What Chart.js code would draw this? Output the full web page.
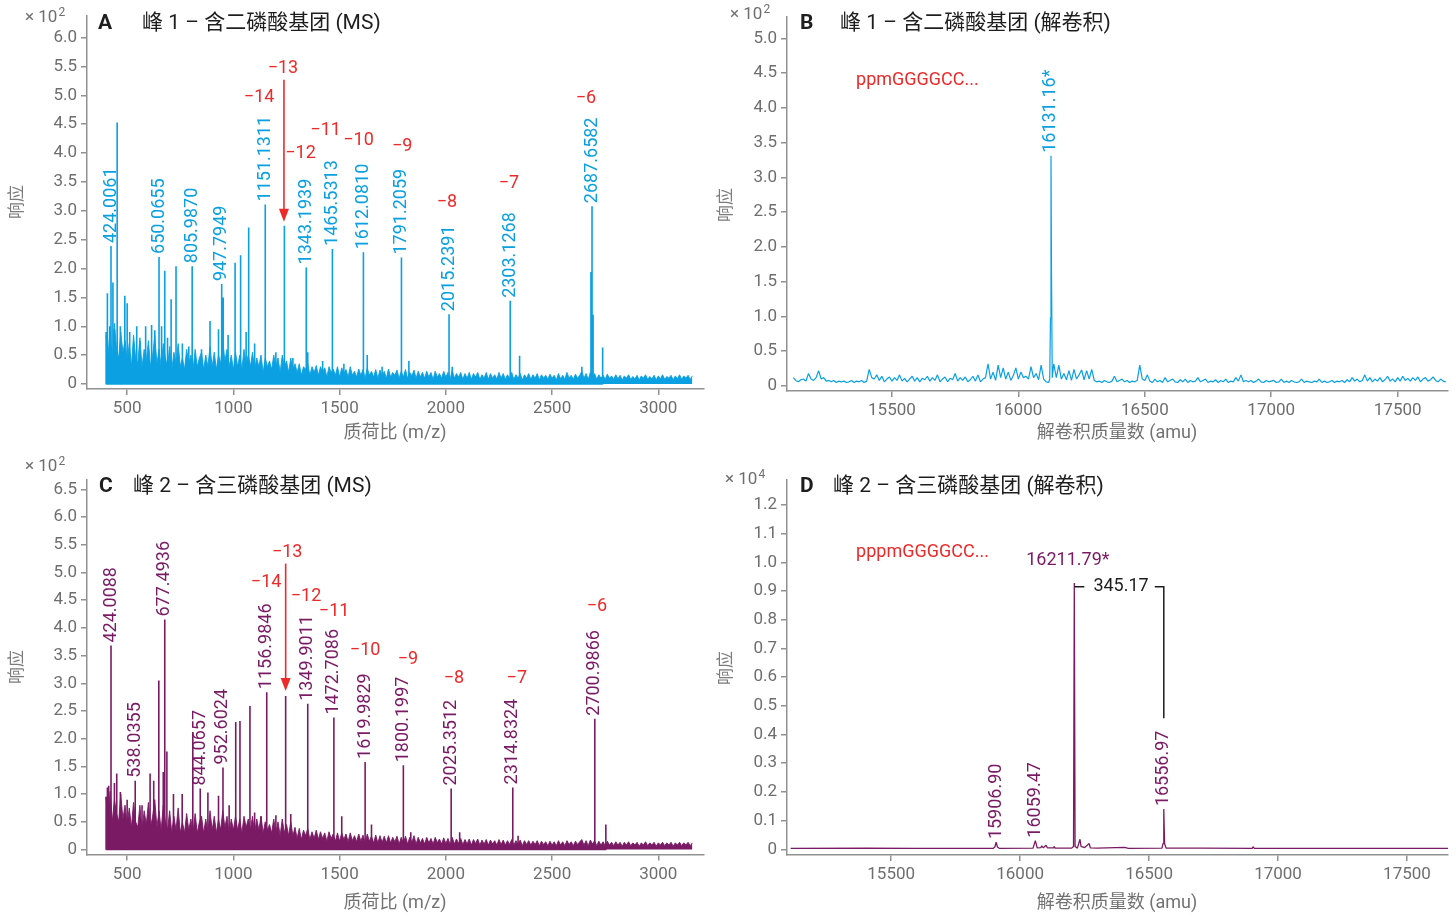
<!DOCTYPE html>
<html>
<head>
<meta charset="utf-8">
<script src="https://cdn.jsdelivr.net/npm/chart.js@4.4.1/dist/chart.umd.min.js"></script>
<style>
  body { margin: 0; width: 1456px; height: 920px; background: #fff; position: relative; overflow: hidden; }
  canvas { position: absolute; }
</style>
</head>
<body>
<canvas id="cA" width="716" height="455" style="left:0;top:0"></canvas>
<canvas id="cB" width="740" height="455" style="left:716px;top:0"></canvas>
<canvas id="cC" width="716" height="465" style="left:0;top:455px"></canvas>
<canvas id="cD" width="740" height="465" style="left:716px;top:455px"></canvas>
<script>
// ---- data (intensities in units of the axis multiplier) ----

// tick values
const msTicksX = [500, 1000, 1500, 2000, 2500, 3000];
const deconTicksX = [15500, 16000, 16500, 17000, 17500];
const ticksYA = [0, 0.5, 1, 1.5, 2, 2.5, 3, 3.5, 4, 4.5, 5, 5.5, 6];
const ticksYB = [0, 0.5, 1, 1.5, 2, 2.5, 3, 3.5, 4, 4.5, 5];
const ticksYC = [0, 0.5, 1, 1.5, 2, 2.5, 3, 3.5, 4, 4.5, 5, 5.5, 6, 6.5];
const ticksYD = [0, 0.1, 0.2, 0.3, 0.4, 0.5, 0.6, 0.7, 0.8, 0.9, 1, 1.1, 1.2];

// MS baseline noise, read every 10 m/z from 400 (one row = 100 m/z)
const noiseStartMs = 400, noiseStepMs = 10;
const noiseA = [
  0.85, 0.5, 0.95, 0.4, 1.05, 0.6, 0.45, 0.9, 0.55, 0.75,
  0.4, 0.7, 0.3, 0.85, 0.45, 0.35, 0.8, 0.3, 0.6, 0.4,
  0.75, 0.3, 0.5, 0.85, 0.35, 0.6, 0.3, 0.7, 0.45, 0.3,
  0.65, 0.25, 0.55, 0.35, 0.7, 0.3, 0.45, 0.25, 0.6, 0.35,
  0.5, 0.25, 0.6, 0.3, 0.45, 0.55, 0.25, 0.5, 0.3, 0.65,
  0.3, 0.55, 0.25, 0.5, 0.35, 0.75, 0.4, 0.6, 0.3, 0.5,
  0.25, 0.55, 0.3, 0.5, 0.25, 0.6, 0.35, 0.5, 0.3, 0.55,
  0.25, 0.45, 0.3, 0.5, 0.2, 0.45, 0.3, 0.4, 0.25, 0.5,
  0.3, 0.45, 0.2, 0.5, 0.3, 0.4, 0.2, 0.45, 0.25, 0.35,
  0.2, 0.35, 0.15, 0.3, 0.25, 0.35, 0.15, 0.3, 0.2, 0.32,
  0.15, 0.3, 0.2, 0.28, 0.12, 0.3, 0.2, 0.26, 0.15, 0.3,
  0.12, 0.28, 0.18, 0.25, 0.12, 0.3, 0.15, 0.22, 0.12, 0.26,
  0.15, 0.25, 0.1, 0.28, 0.15, 0.22, 0.12, 0.25, 0.1, 0.24,
  0.14, 0.22, 0.1, 0.26, 0.12, 0.2, 0.15, 0.24, 0.1, 0.22,
  0.12, 0.25, 0.1, 0.2, 0.14, 0.24, 0.1, 0.22, 0.12, 0.2,
  0.1, 0.22, 0.12, 0.2, 0.08, 0.22, 0.12, 0.18, 0.1, 0.22,
  0.12, 0.2, 0.08, 0.24, 0.1, 0.18, 0.12, 0.2, 0.08, 0.18,
  0.1, 0.2, 0.08, 0.18, 0.12, 0.2, 0.08, 0.16, 0.1, 0.2,
  0.08, 0.18, 0.1, 0.16, 0.08, 0.2, 0.1, 0.18, 0.08, 0.16,
  0.1, 0.2, 0.08, 0.16, 0.1, 0.18, 0.07, 0.16, 0.1, 0.18,
  0.08, 0.16, 0.1, 0.18, 0.07, 0.16, 0.1, 0.15, 0.08, 0.17,
  0.1, 0.15, 0.07, 0.18, 0.09, 0.15, 0.08, 0.2, 0.1, 0.15,
  0.08, 0.17, 0.1, 0.15, 0.22, 0.1, 0.18, 0.08, 0.2, 0.12,
  0.18, 0.08, 0.16, 0.1, 0.15, 0.08, 0.17, 0.1, 0.14, 0.08,
  0.16, 0.09, 0.15, 0.07, 0.14, 0.1, 0.16, 0.08, 0.13, 0.09,
  0.15, 0.07, 0.14, 0.1, 0.16, 0.08, 0.13, 0.09, 0.15, 0.07,
  0.14, 0.09, 0.16, 0.08, 0.13, 0.1, 0.15, 0.07, 0.14, 0.09,
  0.16, 0.08, 0.14, 0.1, 0.15, 0.08, 0.14
];
// panel A: resolved peaks [m/z, intensity]
const peaksA = [
  [401, 0.9], [407, 1.57], [418, 1.0], [424, 2.39], [433, 1.76], [440, 0.95], [453, 4.53],
  [468, 1.0], [489, 1.53], [500, 1.4], [512, 0.9], [545, 1.0], [560, 0.75], [587, 1.0],
  [615, 1.02], [630, 0.93], [650, 2.2], [662, 1.0], [677, 1.96], [690, 0.8], [707, 1.47],
  [730, 2.04], [760, 0.7], [790, 0.65], [806, 2.04], [850, 0.6], [890, 1.09], [930, 0.95],
  [945, 1.73], [952, 1.5], [975, 0.85], [1008, 2.1], [1034, 2.23], [1060, 0.9], [1072, 2.71],
  [1100, 0.7], [1150, 3.11], [1200, 0.55], [1240, 2.74], [1280, 0.45], [1343, 2.02],
  [1350, 0.55], [1420, 0.4], [1466, 2.34], [1520, 0.35], [1612, 2.28], [1630, 0.5],
  [1700, 0.3], [1791, 2.19], [1826, 0.4], [2015, 1.21], [2030, 0.3], [2303, 1.44],
  [2347, 0.49], [2640, 0.3], [2683, 1.94], [2688, 3.08], [2693, 1.2], [2738, 0.63]
];
const labelsA = [
  [424, '424.0061'], [650, '650.0655'], [806, '805.9870'], [945, '947.7949'],
  [1150, '1151.1311'], [1343, '1343.1939'], [1466, '1465.5313'], [1612, '1612.0810'],
  [1791, '1791.2059'], [2015, '2015.2391'], [2303, '2303.1268'], [2688, '2687.6582']
];
const chargesA = [
  ['−14', 1121, 4.97], ['−13', 1233, 5.47], ['−12', 1316, 4.0], ['−11', 1434, 4.4],
  ['−10', 1589, 4.21], ['−9', 1794, 4.11], ['−8', 2005, 3.15], ['−7', 2297, 3.47], ['−6', 2659, 4.94]
];
const arrowA = [1238, 5.27, 2.81];

// panel C
const noiseC = [
  0.95, 0.6, 1.05, 0.5, 0.9, 0.65, 0.5, 1.0, 0.55, 0.8,
  0.45, 0.75, 0.4, 0.85, 0.5, 0.4, 0.8, 0.35, 0.7, 0.45,
  0.85, 0.4, 0.6, 0.9, 0.4, 0.7, 0.35, 0.8, 0.5, 0.35,
  0.7, 0.3, 0.6, 0.35, 0.75, 0.3, 0.5, 0.3, 0.65, 0.35,
  0.55, 0.3, 0.65, 0.3, 0.5, 0.6, 0.3, 0.55, 0.3, 0.7,
  0.35, 0.6, 0.3, 0.55, 0.35, 0.7, 0.4, 0.6, 0.3, 0.55,
  0.35, 0.6, 0.35, 0.55, 0.3, 0.6, 0.4, 0.55, 0.35, 0.6,
  0.3, 0.55, 0.35, 0.6, 0.3, 0.5, 0.35, 0.45, 0.3, 0.55,
  0.3, 0.5, 0.25, 0.55, 0.3, 0.45, 0.25, 0.5, 0.25, 0.4,
  0.2, 0.38, 0.18, 0.35, 0.25, 0.38, 0.18, 0.32, 0.2, 0.35,
  0.18, 0.32, 0.2, 0.3, 0.15, 0.32, 0.2, 0.28, 0.15, 0.3,
  0.15, 0.3, 0.18, 0.28, 0.14, 0.3, 0.16, 0.25, 0.14, 0.28,
  0.15, 0.26, 0.12, 0.28, 0.15, 0.24, 0.12, 0.26, 0.12, 0.25,
  0.13, 0.24, 0.12, 0.25, 0.12, 0.22, 0.14, 0.24, 0.1, 0.22,
  0.12, 0.24, 0.1, 0.22, 0.13, 0.25, 0.1, 0.22, 0.12, 0.2,
  0.1, 0.22, 0.12, 0.2, 0.1, 0.22, 0.12, 0.19, 0.1, 0.21,
  0.11, 0.2, 0.09, 0.22, 0.1, 0.19, 0.11, 0.2, 0.09, 0.18,
  0.1, 0.19, 0.08, 0.18, 0.11, 0.19, 0.08, 0.17, 0.1, 0.18,
  0.08, 0.17, 0.1, 0.16, 0.08, 0.18, 0.09, 0.17, 0.08, 0.16,
  0.09, 0.18, 0.08, 0.16, 0.09, 0.17, 0.07, 0.16, 0.09, 0.16,
  0.08, 0.15, 0.09, 0.16, 0.07, 0.15, 0.09, 0.14, 0.07, 0.15,
  0.08, 0.14, 0.07, 0.16, 0.08, 0.14, 0.07, 0.16, 0.09, 0.14,
  0.07, 0.15, 0.09, 0.14, 0.18, 0.08, 0.16, 0.07, 0.17, 0.1,
  0.16, 0.07, 0.15, 0.08, 0.14, 0.07, 0.15, 0.08, 0.13, 0.07,
  0.14, 0.08, 0.13, 0.06, 0.13, 0.08, 0.14, 0.07, 0.12, 0.08,
  0.13, 0.06, 0.12, 0.08, 0.14, 0.07, 0.12, 0.08, 0.13, 0.06,
  0.12, 0.08, 0.13, 0.07, 0.12, 0.08, 0.13, 0.06, 0.12, 0.08,
  0.13, 0.07, 0.12, 0.08, 0.13, 0.07, 0.12
];
const peaksC = [
  [401, 0.95], [407, 1.12], [413, 1.15], [424, 3.68], [440, 1.2], [451, 1.37], [468, 1.04],
  [500, 0.9], [538, 1.24], [570, 0.8], [608, 1.37], [625, 1.24], [649, 3.05], [670, 1.4],
  [677, 4.15], [687, 1.77], [718, 1.0], [759, 1.0], [809, 2.12], [844, 1.1], [880, 1.03],
  [930, 0.97], [951, 1.48], [980, 0.8], [1011, 2.3], [1031, 2.32], [1078, 2.59], [1100, 0.67],
  [1130, 0.6], [1157, 2.84], [1200, 0.62], [1246, 2.77], [1270, 0.64], [1350, 2.63],
  [1473, 2.38], [1510, 0.6], [1620, 1.58], [1650, 0.45], [1800, 1.52], [1835, 0.31],
  [2025, 1.1], [2065, 0.31], [2315, 1.12], [2340, 0.25], [2701, 2.36], [2753, 0.45]
];
const labelsC = [
  [424, '424.0088'], [538, '538.0355'], [677, '677.4936'], [844, '844.0657'], [951, '952.6024'],
  [1157, '1156.9846'], [1350, '1349.9011'], [1473, '1472.7086'], [1620, '1619.9829'],
  [1800, '1800.1997'], [2025, '2025.3512'], [2315, '2314.8324'], [2701, '2700.9866']
];
const chargesC = [
  ['−14', 1154, 4.81], ['−13', 1253, 5.36], ['−12', 1342, 4.57], ['−11', 1474, 4.29],
  ['−10', 1620, 3.59], ['−9', 1822, 3.43], ['−8', 2038, 3.09], ['−7', 2334, 3.09], ['−6', 2711, 4.39]
];
const arrowC = [1246, 5.16, 2.86];

// panel B: deconvoluted baseline every 10 amu from 15110, plus main peak
const noiseStartB = 15110, noiseStepB = 10;
const noiseB = [
  0.12, 0.08, 0.06, 0.09, 0.1, 0.07, 0.18, 0.1, 0.08, 0.12,
  0.22, 0.1, 0.12, 0.07, 0.08, 0.06, 0.08, 0.05, 0.07, 0.06,
  0.07, 0.05, 0.06, 0.08, 0.05, 0.07, 0.06, 0.08, 0.05, 0.07,
  0.24, 0.12, 0.1, 0.16, 0.08, 0.14, 0.06, 0.1, 0.13, 0.07,
  0.12, 0.08, 0.16, 0.07, 0.11, 0.06, 0.1, 0.14, 0.07, 0.12,
  0.06, 0.11, 0.09, 0.14, 0.07, 0.12, 0.08, 0.16, 0.06, 0.1,
  0.13, 0.06, 0.11, 0.09, 0.18, 0.07, 0.12, 0.08, 0.13, 0.06,
  0.09, 0.14, 0.07, 0.16, 0.06, 0.1, 0.12, 0.32, 0.1, 0.2,
  0.08, 0.3, 0.12, 0.26, 0.1, 0.2, 0.08, 0.15, 0.26, 0.1,
  0.2, 0.12, 0.14, 0.1, 0.28, 0.12, 0.18, 0.09, 0.3, 0.1,
  0.06, 0.05, 0.08, 0.32, 0.12, 0.3, 0.1, 0.18, 0.09, 0.22,
  0.08, 0.24, 0.1, 0.16, 0.23, 0.09, 0.22, 0.1, 0.24, 0.08,
  0.06, 0.07, 0.05, 0.08, 0.06, 0.05, 0.07, 0.14, 0.06, 0.08,
  0.1, 0.06, 0.08, 0.05, 0.07, 0.06, 0.08, 0.3, 0.1, 0.08,
  0.16, 0.07, 0.05, 0.1, 0.06, 0.08, 0.05, 0.12, 0.06, 0.08,
  0.1, 0.06, 0.05, 0.09, 0.06, 0.1, 0.05, 0.08, 0.06, 0.07,
  0.12, 0.06, 0.08, 0.1, 0.05, 0.07, 0.06, 0.09, 0.05, 0.08,
  0.06, 0.1, 0.05, 0.07, 0.06, 0.12, 0.07, 0.16, 0.06, 0.08,
  0.06, 0.08, 0.05, 0.07, 0.1, 0.06, 0.05, 0.08, 0.06, 0.07,
  0.08, 0.05, 0.06, 0.1, 0.05, 0.07, 0.05, 0.08, 0.06, 0.05,
  0.06, 0.1, 0.05, 0.07, 0.06, 0.05, 0.07, 0.06, 0.1, 0.05,
  0.07, 0.05, 0.06, 0.08, 0.05, 0.07, 0.06, 0.08, 0.05, 0.09,
  0.06, 0.12, 0.07, 0.1, 0.06, 0.08, 0.16, 0.07, 0.12, 0.06,
  0.1, 0.07, 0.12, 0.06, 0.09, 0.14, 0.07, 0.1, 0.06, 0.12,
  0.07, 0.14, 0.08, 0.11, 0.07, 0.12, 0.08, 0.13, 0.06, 0.1,
  0.12, 0.07, 0.09, 0.13, 0.08, 0.06, 0.1, 0.07, 0.06
];
const peakB = [[16124, 0.1], [16127, 0.98], [16129, 3.31], [16131, 1.63], [16134, 0.12]];
const labelsB = [[16129, '16131.16*']];

// panel D: deconvoluted profile [amu, intensity]
const profileD = [
  [15110, 0.003], [15400, 0.004], [15600, 0.003], [15895, 0.003], [15902, 0.008], [15907, 0.025],
  [15912, 0.008], [15920, 0.003], [16050, 0.004], [16059, 0.03], [16066, 0.005], [16080, 0.006],
  [16084, 0.012], [16090, 0.005], [16100, 0.014], [16106, 0.005], [16128, 0.005], [16131, 0.01],
  [16136, 0.004], [16200, 0.004], [16207, 0.01], [16210, 0.928], [16213, 0.01], [16222, 0.004],
  [16232, 0.035], [16236, 0.01], [16250, 0.006], [16268, 0.02], [16272, 0.005], [16300, 0.004],
  [16405, 0.007], [16420, 0.003], [16550, 0.004], [16554, 0.02], [16557, 0.14], [16560, 0.02],
  [16566, 0.004], [16700, 0.004], [16900, 0.003], [16903, 0.009], [16908, 0.003], [17200, 0.003],
  [17660, 0.003]
];
const labelsD = [[15907, '15906.90'], [16059, '16059.47'], [16557, '16556.97']];
const mainD = [16185, 1.008, '16211.79*'];
const bracketD = [16210, 16557, 0.915, 0.457, '345.17'];

// ---- drawing ----
const FONT = 'Roboto, "Noto Sans CJK SC", sans-serif';
const AXIS = '#919191', TICK = '#6e6e6e', INK = '#1e1e1e', RED = '#ec2a2a';
const BLUE = '#0aa0e2', PURPLE = '#7a1a64';

function gridPoints(start, step, vals) {
  return vals.map((v, i) => ({ x: start + i * step, y: v }));
}
function sticks(peaks) {
  const out = [];
  peaks.forEach(([m, h]) => { out.push({ x: m, y: 0 }, { x: m, y: h }, { x: m, y: 0 }); });
  return out;
}
function pairs(list) {
  return list.map(([m, h]) => ({ x: m, y: h }));
}
function heightAt(list, m) {
  let h = 0;
  list.forEach(([x, y]) => { if (Math.abs(x - m) <= 3 && y > h) h = y; });
  return h;
}

function axis(min, max, ticks, fit, fmt) {
  return {
    type: 'linear', min: min, max: max,
    afterBuildTicks: s => { s.ticks = ticks.map(v => ({ value: v })); },
    afterFit: fit,
    ticks: { color: TICK, font: { size: 17, family: FONT }, padding: 4, autoSkip: false, maxRotation: 0, callback: fmt },
    grid: { drawOnChartArea: false, drawTicks: true, tickLength: 6, color: AXIS, lineWidth: 1.5 },
    border: { display: true, color: AXIS, width: 1.5 }
  };
}

function makeAnnot(p) {
  return {
    id: 'annot',
    afterDraw(chart) {
      const ctx = chart.ctx, xs = chart.scales.x, ys = chart.scales.y;
      const X = v => xs.getPixelForValue(v), Y = v => ys.getPixelForValue(v);
      ctx.save();
      ctx.textBaseline = 'middle';

      // panel title
      ctx.fillStyle = INK; ctx.textAlign = 'left';
      ctx.font = 'bold 21px ' + FONT;
      ctx.fillText(p.letter, p.titleAt[0], p.titleAt[1]);
      ctx.font = '21px ' + FONT;
      ctx.fillText(p.title, p.titleAt[2], p.titleAt[1]);

      // multiplier
      ctx.fillStyle = TICK; ctx.font = '17px ' + FONT;
      ctx.fillText('× 10', p.expAt[0], p.expAt[1]);
      const w = ctx.measureText('× 10').width;
      ctx.font = '12px ' + FONT;
      ctx.fillText(p.exp, p.expAt[0] + w + 1, p.expAt[1] - 5);

      // axis titles
      ctx.textAlign = 'center'; ctx.font = '18px ' + FONT; ctx.fillStyle = '#727272';
      ctx.fillText(p.xTitle, p.xTitleAt[0], p.xTitleAt[1]);
      ctx.save();
      ctx.translate(p.yTitleAt[0], p.yTitleAt[1]); ctx.rotate(-Math.PI / 2);
      ctx.font = '17px ' + FONT; ctx.fillStyle = '#7c7c7c';
      ctx.fillText('响应', 0, 0);
      ctx.restore();

      // rotated peak labels
      ctx.fillStyle = p.color; ctx.font = '18px ' + FONT; ctx.textAlign = 'left';
      p.labels.forEach(([m, t]) => {
        const h = heightAt(p.source, m);
        ctx.save();
        ctx.translate(X(m), Y(h) - 3); ctx.rotate(-Math.PI / 2);
        ctx.fillText(t, 0, 0);
        ctx.restore();
      });

      // charge states and arrow
      ctx.fillStyle = RED; ctx.textAlign = 'center';
      (p.charges || []).forEach(([t, m, v]) => ctx.fillText(t, X(m), Y(v)));
      if (p.arrow) {
        const [m, top, tip] = p.arrow, ax = X(m), ty = Y(tip);
        ctx.strokeStyle = RED; ctx.lineWidth = 1.6;
        ctx.beginPath(); ctx.moveTo(ax, Y(top)); ctx.lineTo(ax, ty - 10); ctx.stroke();
        ctx.beginPath(); ctx.moveTo(ax - 5, ty - 13); ctx.lineTo(ax + 5, ty - 13); ctx.lineTo(ax, ty); ctx.closePath(); ctx.fill();
      }

      // sequence label
      if (p.seq) {
        ctx.textAlign = 'left'; ctx.fillStyle = RED;
        ctx.fillText(p.seq[0], X(p.seq[1]), Y(p.seq[2]));
      }

      // horizontal main label + mass difference bracket
      if (p.main) {
        ctx.textAlign = 'center'; ctx.fillStyle = p.color;
        ctx.fillText(p.main[2], X(p.main[0]), Y(p.main[1]));
      }
      if (p.bracket) {
        const [m1, m2, top, bot, t] = p.bracket, x1 = X(m1), x2 = X(m2), yt = Y(top);
        ctx.strokeStyle = INK; ctx.lineWidth = 1.5;
        ctx.beginPath();
        ctx.moveTo(x1, yt); ctx.lineTo(x1 + 10, yt);
        ctx.moveTo(x2 - 9, yt); ctx.lineTo(x2, yt); ctx.lineTo(x2, Y(bot));
        ctx.stroke();
        ctx.fillStyle = INK;
        ctx.fillText(t, (x1 + x2) / 2 + 2, yt);
      }
      ctx.restore();
    }
  };
}

function makePanel(p) {
  new Chart(document.getElementById(p.id), {
    type: 'line',
    data: { datasets: p.datasets },
    options: {
      responsive: false, animation: false, events: [],
      layout: { padding: { left: 0, top: p.area.top, right: p.area.right, bottom: 0 } },
      elements: { point: { radius: 0, hoverRadius: 0 }, line: { tension: 0, borderJoinStyle: 'bevel' } },
      plugins: { legend: { display: false }, tooltip: { enabled: false } },
      scales: {
        x: axis(p.x[0], p.x[1], p.xTicks, s => { s.height = p.area.xh; }, v => String(v)),
        y: axis(p.y[0], p.y[1], p.yTicks, s => { s.width = p.area.left; }, v => v === 0 ? '0' : v.toFixed(1))
      }
    },
    plugins: [makeAnnot(p)]
  });
}

const bLine = gridPoints(noiseStartB, noiseStepB, noiseB)
  .filter(pt => pt.x < peakB[0][0] || pt.x > peakB[peakB.length - 1][0])
  .concat(pairs(peakB))
  .sort((a, b) => a.x - b.x);

makePanel({
  id: 'cA', area: { left: 87, top: 16, right: 12, xh: 66 },
  x: [311, 3215], y: [-0.087, 6.375], xTicks: msTicksX, yTicks: ticksYA,
  datasets: [
    { data: gridPoints(noiseStartMs, noiseStepMs, noiseA), borderColor: BLUE, backgroundColor: BLUE, borderWidth: 0.9, fill: 'origin' },
    { data: sticks(peaksA), borderColor: BLUE, borderWidth: 1.6, fill: false }
  ],
  letter: 'A', title: '峰 1 – 含二磷酸基团 (MS)', titleAt: [98, 24, 142],
  exp: '2', expAt: [25, 18], xTitle: '质荷比 (m/z)', xTitleAt: [395, 433], yTitleAt: [18, 202],
  color: BLUE, source: peaksA, labels: labelsA, charges: chargesA, arrow: arrowA
});

makePanel({
  id: 'cB', area: { left: 71, top: 17, right: 8, xh: 64 },
  x: [15085, 17699], y: [-0.072, 5.307], xTicks: deconTicksX, yTicks: ticksYB,
  datasets: [
    { data: bLine, borderColor: BLUE, borderWidth: 1.2, fill: false }
  ],
  letter: 'B', title: '峰 1 – 含二磷酸基团 (解卷积)', titleAt: [84, 24, 124],
  exp: '2', expAt: [14, 15], xTitle: '解卷积质量数 (amu)', xTitleAt: [401, 433], yTitleAt: [11, 205],
  color: BLUE, source: peakB, labels: labelsB, seq: ['ppmGGGGCC...', 15358, 4.39]
});

makePanel({
  id: 'cC', area: { left: 87, top: 25, right: 12, xh: 65.5 },
  x: [311, 3215], y: [-0.09, 6.668], xTicks: msTicksX, yTicks: ticksYC,
  datasets: [
    { data: gridPoints(noiseStartMs, noiseStepMs, noiseC), borderColor: PURPLE, backgroundColor: PURPLE, borderWidth: 0.9, fill: 'origin' },
    { data: sticks(peaksC), borderColor: PURPLE, borderWidth: 1.6, fill: false }
  ],
  letter: 'C', title: '峰 2 – 含三磷酸基团 (MS)', titleAt: [99, 32, 133],
  exp: '2', expAt: [25, 12], xTitle: '质荷比 (m/z)', xTitleAt: [395, 448], yTitleAt: [18, 212],
  color: PURPLE, source: peaksC, labels: labelsC, charges: chargesC, arrow: arrowC
});

makePanel({
  id: 'cD', area: { left: 71, top: 25, right: 8, xh: 65 },
  x: [15096, 17659], y: [-0.0199, 1.287], xTicks: deconTicksX, yTicks: ticksYD,
  datasets: [
    { data: pairs(profileD), borderColor: PURPLE, borderWidth: 1.3, fill: false }
  ],
  letter: 'D', title: '峰 2 – 含三磷酸基团 (解卷积)', titleAt: [84, 32, 117],
  exp: '4', expAt: [9, 25], xTitle: '解卷积质量数 (amu)', xTitleAt: [401, 448], yTitleAt: [11, 213],
  color: PURPLE, source: profileD, labels: labelsD, seq: ['pppmGGGGCC...', 15364, 1.036],
  main: mainD, bracket: bracketD
});
</script>
</body>
</html>
